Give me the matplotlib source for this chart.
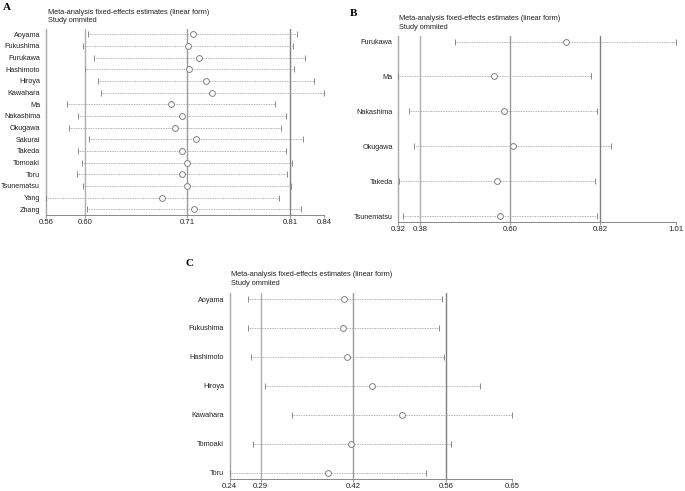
import matplotlib
matplotlib.use("Agg")
import matplotlib.pyplot as plt

plt.rcParams['font.family'] = ['Liberation Sans', 'DejaVu Sans']

# ---------------- data ----------------
# Panel A
a_names = ["Aoyama", "Fukushima", "Furukawa", "Hashimoto", "Hiroya", "Kawahara", "Ma",
           "Nakashima", "Okugawa", "Sakurai", "Takeda", "Tomoaki", "Toru", "Tsunematsu",
           "Yang", "Zhang"]
a_lower = [0.6023, 0.5976, 0.6083, 0.5992, 0.6126, 0.6153, 0.5811, 0.5922, 0.5835, 0.6039,
           0.5922, 0.5969, 0.5912, 0.5972, 0.5600, 0.6019]
a_est = [0.7079, 0.7032, 0.7143, 0.7045, 0.7210, 0.7277, 0.6858, 0.6968, 0.6904, 0.7112,
         0.6968, 0.7025, 0.6968, 0.7025, 0.6770, 0.7092]
a_upper = [0.8132, 0.8085, 0.8209, 0.8102, 0.8300, 0.8400, 0.7907, 0.8014, 0.7968, 0.8186,
           0.8014, 0.8075, 0.8028, 0.8072, 0.7944, 0.8165]
a_ref = [0.5995, 0.7025, 0.8060]
a_ticks = [0.56, 0.5995, 0.7025, 0.8060, 0.84]
a_ticklabels = ["0.56", "0.60", "0.71", "0.81", "0.84"]

# Panel B
b_names = ["Furukawa", "Ma", "Nakashima", "Okugawa", "Takeda", "Tsunematsu"]
b_lower = [0.4617, 0.3200, 0.3473, 0.3589, 0.3208, 0.3324]
b_est = [0.7359, 0.5578, 0.5818, 0.6050, 0.5644, 0.5735]
b_upper = [1.0100, 0.7980, 0.8146, 0.8494, 0.8088, 0.8146]
b_ref = [0.3742, 0.5975, 0.8212]
b_ticks = [0.32, 0.3742, 0.5975, 0.8212, 1.01]
b_ticklabels = ["0.32", "0.38", "0.60", "0.82", "1.01"]

# Panel C
c_names = ["Aoyama", "Fukushima", "Hashimoto", "Hiroya", "Kawahara", "Tomoaki", "Toru"]
c_lower = [0.2661, 0.2661, 0.2705, 0.2913, 0.3299, 0.2738, 0.2400]
c_est = [0.4063, 0.4049, 0.4102, 0.4470, 0.4895, 0.4165, 0.3826]
c_upper = [0.5475, 0.5442, 0.5509, 0.6036, 0.6500, 0.5606, 0.5248]
c_ref = [0.2847, 0.4194, 0.5538]
c_ticks = [0.24, 0.2847, 0.4194, 0.5538, 0.65]
c_ticklabels = ["0.24", "0.29", "0.42", "0.56", "0.65"]

title1 = "Meta-analysis fixed-effects estimates (linear form)"
title2 = "Study ommited"

W, H = 685, 491
fig = plt.figure(figsize=(W / 100, H / 100), dpi=100)
fig.patch.set_facecolor("white")


def px_rect(x0, y_top, x1, y_bot):
    return [x0 / W, 1 - y_bot / H, (x1 - x0) / W, (y_bot - y_top) / H]


def panel(rect, names, lo, est, hi, ref, ticks, ticklabels, ylim, letter, letter_xy, title_xy):
    ax = fig.add_axes(rect)
    n = len(names)
    ys = list(range(n))
    ref_colors = ["#b0b0b0", "#9a9a9a", "#808080"]
    for r, c in zip(ref, ref_colors):
        ax.axvline(r, color=c, lw=1.0, zorder=1)
    for y, l, e, h in zip(ys, lo, est, hi):
        ax.plot([l, h], [y, y], ls=(0, (1, 1)), color="#9a9a9a", lw=0.6, zorder=2)
        ax.plot([l, h], [y, y], ls="none", marker="|", ms=4.5, mew=0.7, color="#8a8a8a", zorder=3)
    ax.plot(est, ys, ls="none", marker="o", ms=4.2, mfc="white", mec="#808080", mew=0.7, zorder=4)
    ax.set_xlim(ticks[0], ticks[-1])
    ax.set_ylim(*ylim)
    ax.set_yticks(ys)
    ax.set_yticklabels(names, fontsize=5.2, color="#222222")
    ax.set_xticks(ticks)
    ax.set_xticklabels(ticklabels, fontsize=5.6, color="#222222")
    ax.tick_params(axis="y", length=0, pad=4)
    ax.tick_params(axis="x", length=2.5, width=0.6, color="#888888", pad=0.5)
    for s in ["top", "right"]:
        ax.spines[s].set_visible(False)
    ax.spines["left"].set_color("#a8a8a8")
    ax.spines["left"].set_linewidth(1.0)
    ax.spines["bottom"].set_color("#888888")
    ax.spines["bottom"].set_linewidth(0.7)
    fig.text(letter_xy[0] / W, 1 - letter_xy[1] / H, letter, family=["Liberation Serif", "DejaVu Serif"],
             fontweight="bold", fontsize=8, ha="left", va="center")
    fig.text(title_xy[0] / W, 1 - title_xy[1] / H, title1, fontsize=5.3, color="#222222",
             ha="left", va="center")
    fig.text(title_xy[0] / W, 1 - (title_xy[1] + 8.7) / H, title2, fontsize=5.3, color="#222222",
             ha="left", va="center")
    return ax


panel(px_rect(45.7, 28.5, 324.0, 215.0), a_names, a_lower, a_est, a_upper, a_ref, a_ticks,
      a_ticklabels, (15.5, -0.5), "A", (3, 7), (48, 12))
panel(px_rect(398.3, 36.0, 676.0, 221.7), b_names, b_lower, b_est, b_upper, b_ref, b_ticks,
      b_ticklabels, (5.16, -0.16), "B", (350, 13), (399, 19))
panel(px_rect(229.7, 292.7, 512.3, 479.3), c_names, c_lower, c_est, c_upper, c_ref, c_ticks,
      c_ticklabels, (6.23, -0.22), "C", (186, 264), (231, 275))

fig.savefig("out.png", dpi=100, facecolor="white")
